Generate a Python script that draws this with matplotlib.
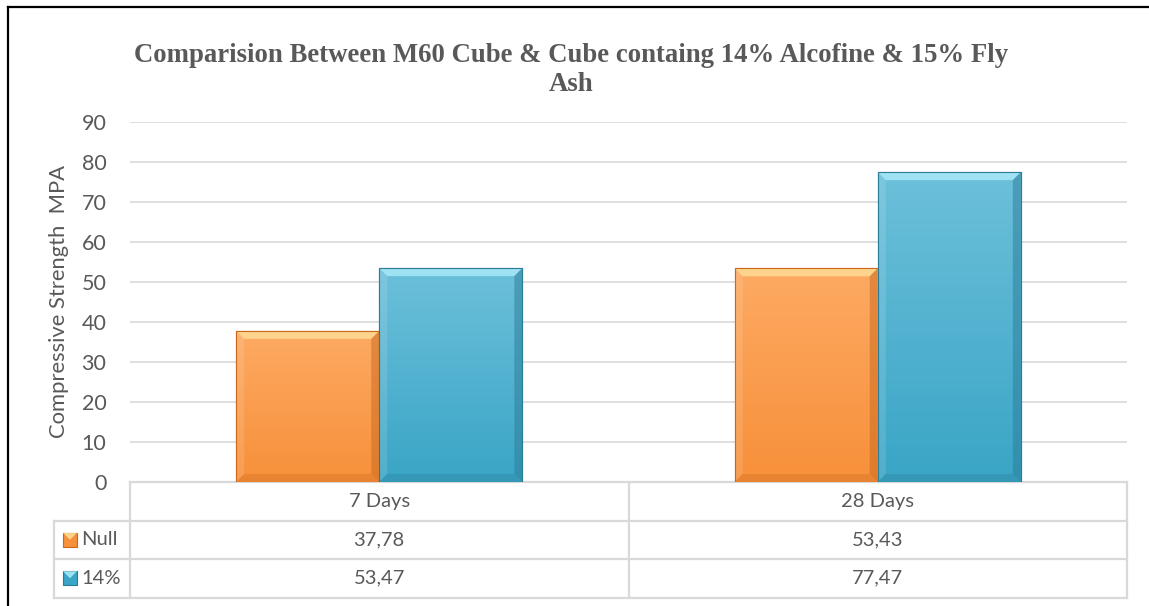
"""
Excel-style clustered bar chart with a data table underneath
"""
import numpy as np
import matplotlib.pyplot as plt
import matplotlib
from matplotlib.patches import Polygon, Rectangle
from matplotlib.colors import LinearSegmentedColormap
import matplotlib.transforms as mtransforms

matplotlib.rcParams['font.family'] = ['Lato', 'DejaVu Sans']

# data
categories = ['7 Days', '28 Days']
series_names = ['Null', '14%']
null_values = [37.78, 53.43]
pct14_values = [53.47, 77.47]
yticks = [0, 10, 20, 30, 40, 50, 60, 70, 80, 90]

title_line1 = 'Comparision Between M60 Cube & Cube containg 14% Alcofine & 15% Fly'
title_line2 = 'Ash'
ylabel = 'Compressive Strength  MPA'

# colours: (top, bottom, edge, highlight)
styles = [
    ('#FDAA63', '#F7903A', '#C8691E', '#FFE7A0'),
    ('#6CC0DA', '#3AA5C6', '#2B7C96', '#B4F2FF'),
]
text_grey = '#595959'
grid_grey = '#D9D9D9'

W, H = 1149, 606
fig = plt.figure(figsize=(W / 100, H / 100), dpi=100)

# chart border (top + left visible)
fig.add_artist(plt.Line2D([8 / W, 1.0], [1 - 7 / H, 1 - 7 / H], color='black', lw=1.6))
fig.add_artist(plt.Line2D([8 / W, 8 / W], [0.0, 1 - 7 / H], color='black', lw=1.6))

left, right, top, bottom = 130, 1127, 122, 482
ax = fig.add_axes([left / W, 1 - bottom / H, (right - left) / W, (bottom - top) / H])

x = np.arange(len(categories))
bw = 0.287
all_vals = [null_values, pct14_values]
bars = []
for i, vals in enumerate(all_vals):
    off = (i - 0.5) * bw
    b = ax.bar(x + off, vals, bw, color=styles[i][1], edgecolor=styles[i][2],
               linewidth=0.8, zorder=3)
    bars.append(b)

ax.set_xlim(-0.5, len(categories) - 0.5)
ax.set_ylim(0, 90)
ax.set_yticks(yticks)
ax.tick_params(axis='y', length=0, pad=17, labelsize=15.5, labelcolor=text_grey)
ax.set_xticks([])
for s in ax.spines.values():
    s.set_visible(False)
ax.grid(axis='y', color=grid_grey, lw=1.2, zorder=0)
ax.set_axisbelow(True)
ax.set_ylabel(ylabel, fontsize=15.8, color=text_grey, labelpad=9)

# bevel / gradient on bars
px_x = 1.0 / (right - left) * (len(categories))   # data units per pixel in x
px_y = 90.0 / (bottom - top)                        # data units per pixel in y
bev = 8
for i, b in enumerate(bars):
    top_c, bot_c, edge_c, hi_c = styles[i]
    cmap = LinearSegmentedColormap.from_list('g%d' % i, [bot_c, top_c])
    for r in b.patches:
        x0, y0 = r.get_x(), r.get_y()
        x1, y1 = x0 + r.get_width(), y0 + r.get_height()
        grad = np.linspace(0, 1, 100).reshape(-1, 1)
        im = ax.imshow(grad, extent=[x0, x1, y0, y1], origin='lower', cmap=cmap,
                       aspect='auto', zorder=3.5)
        im.set_clip_path(r)
        dx, dy = bev * px_x, bev * px_y
        # top highlight
        ax.add_patch(Polygon([[x0, y1], [x1, y1], [x1 - dx, y1 - dy], [x0 + dx, y1 - dy]],
                             closed=True, facecolor=hi_c, alpha=0.7, lw=0, zorder=4))
        # left lighter
        ax.add_patch(Polygon([[x0, y0], [x0, y1], [x0 + dx, y1 - dy], [x0 + dx, y0 + dy]],
                             closed=True, facecolor='white', alpha=0.12, lw=0, zorder=4))
        # right darker
        ax.add_patch(Polygon([[x1, y0], [x1, y1], [x1 - dx, y1 - dy], [x1 - dx, y0 + dy]],
                             closed=True, facecolor=edge_c, alpha=0.5, lw=0, zorder=4))
        # bottom darker
        ax.add_patch(Polygon([[x0, y0], [x1, y0], [x1 - dx, y0 + dy], [x0 + dx, y0 + dy]],
                             closed=True, facecolor=edge_c, alpha=0.3, lw=0, zorder=4))
        ax.add_patch(Rectangle((x0, y0), r.get_width(), r.get_height(), fill=False,
                               edgecolor=edge_c, lw=0.8, zorder=4.5))

ax.set_xlim(-0.5, len(categories) - 0.5)
ax.set_ylim(0, 90)

# data table below the axes
trans = mtransforms.blended_transform_factory(ax.transData, fig.transFigure)
row_h = 38.5
row_edges = [bottom + k * row_h for k in range(len(series_names) + 2)]
fy = lambda py: 1 - py / H
col_edges = [-0.5 + k for k in range(len(categories) + 1)]
leg_left = 54
leg_left_d = -0.5 - (left - leg_left) * px_x

tbl_kw = dict(color=grid_grey, lw=1.6, transform=trans, clip_on=False)
# horizontal lines
ax.plot([col_edges[0], col_edges[-1]], [fy(row_edges[0])] * 2, **tbl_kw)
for ry in row_edges[1:]:
    ax.plot([leg_left_d, col_edges[-1]], [fy(ry)] * 2, **tbl_kw)
# vertical lines
for cx in col_edges:
    ax.plot([cx, cx], [fy(row_edges[0]), fy(row_edges[-1])], **tbl_kw)
ax.plot([leg_left_d, leg_left_d], [fy(row_edges[1]), fy(row_edges[-1])], **tbl_kw)

txt_kw = dict(fontsize=14.5, color=text_grey, ha='center', va='center', transform=trans)
for j, cat in enumerate(categories):
    ax.text(x[j], fy((row_edges[0] + row_edges[1]) / 2), cat, **txt_kw)
for i, vals in enumerate(all_vals):
    yc = fy((row_edges[i + 1] + row_edges[i + 2]) / 2)
    for j, v in enumerate(vals):
        ax.text(x[j], yc, f'{v:.2f}'.replace('.', ','), **txt_kw)
    # legend key
    kx = leg_left_d + 9 * px_x
    ks = 14 * px_x
    key_h = 14 / H
    ax.add_patch(Rectangle((kx, yc - key_h / 2), ks, key_h, transform=trans,
                           facecolor=styles[i][1], edgecolor=styles[i][2], lw=0.8,
                           clip_on=False))
    ax.add_patch(Polygon([[kx, yc + key_h / 2], [kx + ks, yc + key_h / 2],
                          [kx + ks / 2, yc]], closed=True, transform=trans,
                         facecolor=styles[i][3], alpha=0.8, lw=0, clip_on=False))
    ax.text(kx + ks + 4 * px_x, yc, series_names[i], fontsize=14.5, color=text_grey,
            ha='left', va='center', transform=trans)

title_kw = dict(fontsize=19.3, fontweight='bold', family='Liberation Serif',
                color=text_grey, ha='center', va='baseline')
fig.text(571 / W, 1 - 62 / H, title_line1, **title_kw)
fig.text(571 / W, 1 - 91 / H, title_line2, **title_kw)

fig.savefig('out.png', dpi=100)
